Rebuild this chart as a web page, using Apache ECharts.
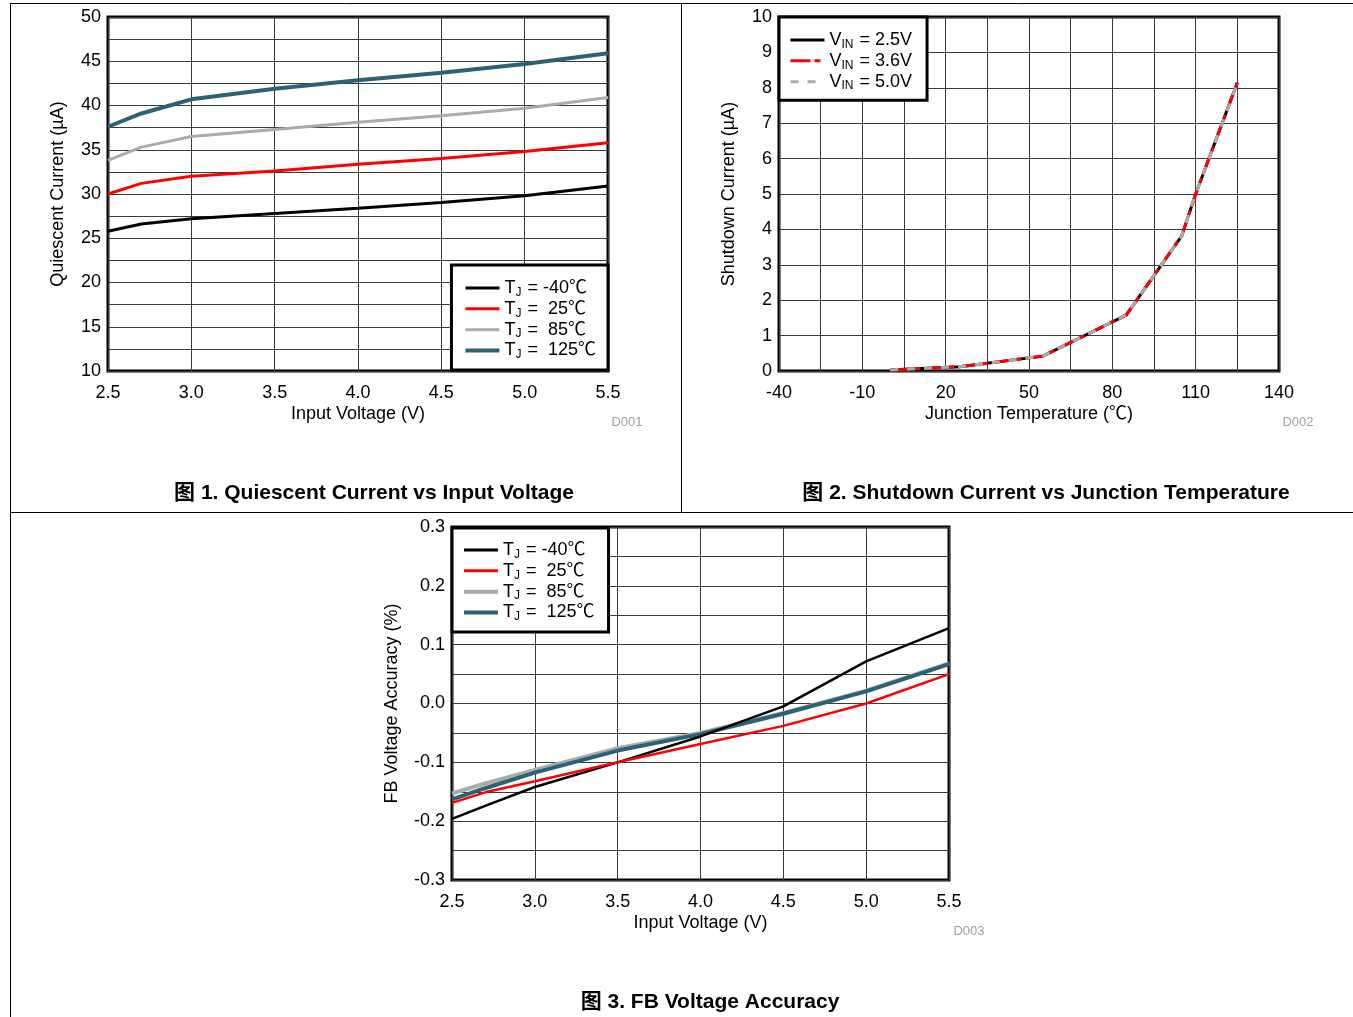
<!DOCTYPE html>
<html><head><meta charset="utf-8">
<script src="https://cdn.jsdelivr.net/npm/echarts@6/dist/echarts.min.js"></script>
<style>html,body{margin:0;padding:0;background:#fff}#c{width:1353px;height:1017px}</style>
</head><body><div id="c"></div>
<script>
// ---------- Data ----------
// Figure 1: Quiescent current vs input voltage
const vinX   = [2.5, 2.7, 3.0, 3.5, 4.0, 4.5, 5.0, 5.5];
const iqM40  = [25.8, 26.6, 27.2, 27.8, 28.4, 29.05, 29.8, 30.9];
const iq25   = [30.0, 31.2, 32.0, 32.6, 33.35, 34.0, 34.8, 35.8];
const iq85   = [33.8, 35.3, 36.5, 37.3, 38.1, 38.85, 39.7, 40.9];
const iq125  = [37.6, 39.1, 40.7, 41.9, 42.85, 43.7, 44.7, 45.9];
// Figure 2: Shutdown current vs junction temperature
const tempX  = [0, 25, 55, 85, 105, 110, 125];
const isdV25 = [0.03, 0.12, 0.42, 1.58, 3.82, 5.0, 8.14];
const isdV36 = [0.03, 0.12, 0.42, 1.58, 3.82, 5.0, 8.14];
const isdV50 = [0.03, 0.12, 0.42, 1.58, 3.82, 5.0, 8.14];
// Figure 3: FB voltage accuracy
const fbX    = [2.5, 2.7, 3.0, 3.5, 4.0, 4.5, 5.0, 5.5];
const fbM40  = [-0.196, -0.174, -0.142, -0.100, -0.056, -0.005, 0.0715, 0.128];
const fb25   = [-0.169, -0.151, -0.132, -0.100, -0.069, -0.038, 0.000, 0.050];
const fb85   = [-0.153, -0.136, -0.113, -0.076, -0.050, -0.016, 0.022, 0.068];
const fb125  = [-0.163, -0.144, -0.1175, -0.080, -0.052, -0.0175, 0.0205, 0.067];
// Labels
const tjNames   = ['-40℃', '25℃', '85℃', '125℃'];
const vinNames  = ['2.5V', '3.6V', '5.0V'];
const titles    = ['图 1. Quiescent Current vs Input Voltage', '图 2. Shutdown Current vs Junction Temperature', '图 3. FB Voltage Accuracy'];
const figIds    = ['D001', 'D002', 'D003'];

// ---------- Styles ----------
const FONT = '"Liberation Sans", Arial, "Noto Sans CJK SC", sans-serif';
const BLUE = '#2c6279', GRAY = '#ababab', RED = '#ff0000', BLACK = '#000000';
const gridLine = {color: '#3a3a3a', width: 1};
const FS = 18;

function zip(xs, ys) { return xs.map((x, i) => [x, ys[i]]); }
const fix1 = v => (Math.abs(v) < 1e-9 ? 0 : v).toFixed(1);

function xAxisCfg(gi, min, max, interval, name, fmt, minor) {
  return {
    type: 'value', gridIndex: gi, min, max, interval,
    name, nameLocation: 'middle', nameGap: 34,
    nameTextStyle: {color: '#000', fontSize: FS, fontFamily: FONT},
    axisLine: {show: false}, axisTick: {show: false},
    axisLabel: {color: '#000', fontSize: FS, fontFamily: FONT, margin: 13, formatter: fmt},
    splitLine: {show: true, lineStyle: gridLine},
    minorTick: {show: false, splitNumber: 2},
    minorSplitLine: {show: !!minor, lineStyle: gridLine}
  };
}
function yAxisCfg(gi, min, max, interval, name, fmt, minor, gap) {
  return {
    type: 'value', gridIndex: gi, min, max, interval,
    name, nameLocation: 'middle', nameGap: gap,
    nameTextStyle: {color: '#000', fontSize: FS, fontFamily: FONT},
    axisLine: {show: false}, axisTick: {show: false},
    axisLabel: {color: '#000', fontSize: FS, fontFamily: FONT, margin: 7, padding: [4, 0, 0, 0], formatter: fmt},
    splitLine: {show: true, lineStyle: gridLine},
    minorTick: {show: false, splitNumber: 2},
    minorSplitLine: {show: !!minor, lineStyle: gridLine}
  };
}
function lineSeries(name, gi, xs, ys, color, width, dash) {
  return {
    name, type: 'line', xAxisIndex: gi, yAxisIndex: gi,
    data: zip(xs, ys), showSymbol: false, symbol: 'none', smooth: false,
    animation: false,
    lineStyle: {color, width, type: dash || 'solid'},
    itemStyle: {color}
  };
}

const labelMap = {};
function tjLabel(t) { return '{t|T}{s|J}{t| =' + (t[0] === '-' ? ' ' : '  ') + t + '}'; }
const fig1Names = tjNames.map((t, i) => { const n = 'f1_' + i; labelMap[n] = tjLabel(t); return n; });
const fig3Names = tjNames.map((t, i) => { const n = 'f3_' + i; labelMap[n] = tjLabel(t); return n; });
const fig2Names = vinNames.map((v, i) => { const n = 'f2_' + i; labelMap[n] = '{t|V}{s|IN}{t| = ' + v + '}'; return n; });

const richText = {
  t: {fontSize: FS, fontFamily: FONT, color: '#000', lineHeight: 21, verticalAlign: 'middle'},
  s: {fontSize: 12, fontFamily: FONT, color: '#000', lineHeight: 8, verticalAlign: 'bottom', padding: [0, 1, 0, 0]}
};
function legendCfg(pos, names, widths, pad) {
  return Object.assign({
    orient: 'vertical', padding: pad, itemGap: 1.33, itemWidth: 34, itemHeight: 21, itemTextGap: 10,
    borderColor: '#000', borderWidth: 3, backgroundColor: '#fff', borderRadius: 0,
    selectedMode: false,
    itemStyle: {opacity: 0},
    data: names.map((n, i) => ({name: n, lineStyle: {width: widths[i]}})),
    formatter: n => labelMap[n],
    textStyle: {rich: richText, fontSize: FS, fontFamily: FONT, color: '#000'}
  }, pos);
}

const option = {
  animation: false,
  backgroundColor: '#fff',
  grid: [
    {left: 108, top: 17, width: 500, height: 354, show: true, borderColor: '#000', borderWidth: 3, backgroundColor: 'transparent'},
    {left: 779, top: 17, width: 500, height: 354, show: true, borderColor: '#000', borderWidth: 3, backgroundColor: 'transparent'},
    {left: 452, top: 527, width: 497, height: 353, show: true, borderColor: '#000', borderWidth: 3, backgroundColor: 'transparent'}
  ],
  xAxis: [
    xAxisCfg(0, 2.5, 5.5, 0.5, 'Input Voltage (V)', fix1, false),
    xAxisCfg(1, -40, 140, 30, 'Junction Temperature (℃)', v => String(v), true),
    xAxisCfg(2, 2.5, 5.5, 0.5, 'Input Voltage (V)', fix1, false)
  ],
  yAxis: [
    yAxisCfg(0, 10, 50, 5, 'Quiescent Current (µA)', v => String(v), true, 41),
    yAxisCfg(1, 0, 10, 1, 'Shutdown Current (µA)', v => String(v), false, 41),
    yAxisCfg(2, -0.3, 0.3, 0.1, 'FB Voltage Accuracy (%)', fix1, true, 51)
  ],
  legend: [
    legendCfg({right: 745, top: 265}, fig1Names, [3, 3, 3, 4], [14, 12, 9, 12]),
    legendCfg({left: 779, top: 17}, fig2Names, [3, 3, 3], [14, 15, 8, 10]),
    legendCfg({left: 452, top: 528}, fig3Names, [3, 3, 4, 4], [13, 14, 9, 10])
  ],
  series: [
    lineSeries(fig1Names[0], 0, vinX, iqM40, BLACK, 3),
    lineSeries(fig1Names[1], 0, vinX, iq25, RED, 3),
    lineSeries(fig1Names[2], 0, vinX, iq85, GRAY, 3),
    lineSeries(fig1Names[3], 0, vinX, iq125, BLUE, 4),

    lineSeries(fig2Names[0], 1, tempX, isdV25, BLACK, 3),
    lineSeries(fig2Names[1], 1, tempX, isdV36, RED, 3, [20, 4, 6, 4]),
    lineSeries(fig2Names[2], 1, tempX, isdV50, GRAY, 3, [8, 9]),

    lineSeries(fig3Names[2], 2, fbX, fb85, GRAY, 4),
    lineSeries(fig3Names[3], 2, fbX, fb125, BLUE, 4),
    lineSeries(fig3Names[0], 2, fbX, fbM40, BLACK, 2.5),
    lineSeries(fig3Names[1], 2, fbX, fb25, RED, 2.5)
  ],
  graphic: [
    {type: 'line', shape: {x1: 10, y1: 3.5, x2: 1353, y2: 3.5}, style: {stroke: '#000', lineWidth: 1}, silent: true},
    {type: 'line', shape: {x1: 10.5, y1: 3, x2: 10.5, y2: 1017}, style: {stroke: '#000', lineWidth: 1}, silent: true},
    {type: 'line', shape: {x1: 681.5, y1: 3, x2: 681.5, y2: 512}, style: {stroke: '#000', lineWidth: 1}, silent: true},
    {type: 'line', shape: {x1: 10, y1: 512.5, x2: 1353, y2: 512.5}, style: {stroke: '#000', lineWidth: 1}, silent: true},
    {type: 'text', x: 374, y: 493, style: {text: titles[0], font: 'bold 21px ' + FONT, fill: '#000', align: 'center', verticalAlign: 'middle'}, silent: true},
    {type: 'text', x: 1046, y: 493, style: {text: titles[1], font: 'bold 21px ' + FONT, fill: '#000', align: 'center', verticalAlign: 'middle'}, silent: true},
    {type: 'text', x: 710, y: 1002, style: {text: titles[2], font: 'bold 21px ' + FONT, fill: '#000', align: 'center', verticalAlign: 'middle'}, silent: true},
    {type: 'text', x: 627, y: 422, style: {text: figIds[0], font: '13px ' + FONT, fill: '#a0a0a0', align: 'center', verticalAlign: 'middle'}, silent: true},
    {type: 'text', x: 1298, y: 422, style: {text: figIds[1], font: '13px ' + FONT, fill: '#a0a0a0', align: 'center', verticalAlign: 'middle'}, silent: true},
    {type: 'text', x: 969, y: 931, style: {text: figIds[2], font: '13px ' + FONT, fill: '#a0a0a0', align: 'center', verticalAlign: 'middle'}, silent: true}
  ]
};
const chart = echarts.init(document.getElementById('c'), null, {renderer: 'canvas'});
chart.setOption(option);
</script>
</body></html>
